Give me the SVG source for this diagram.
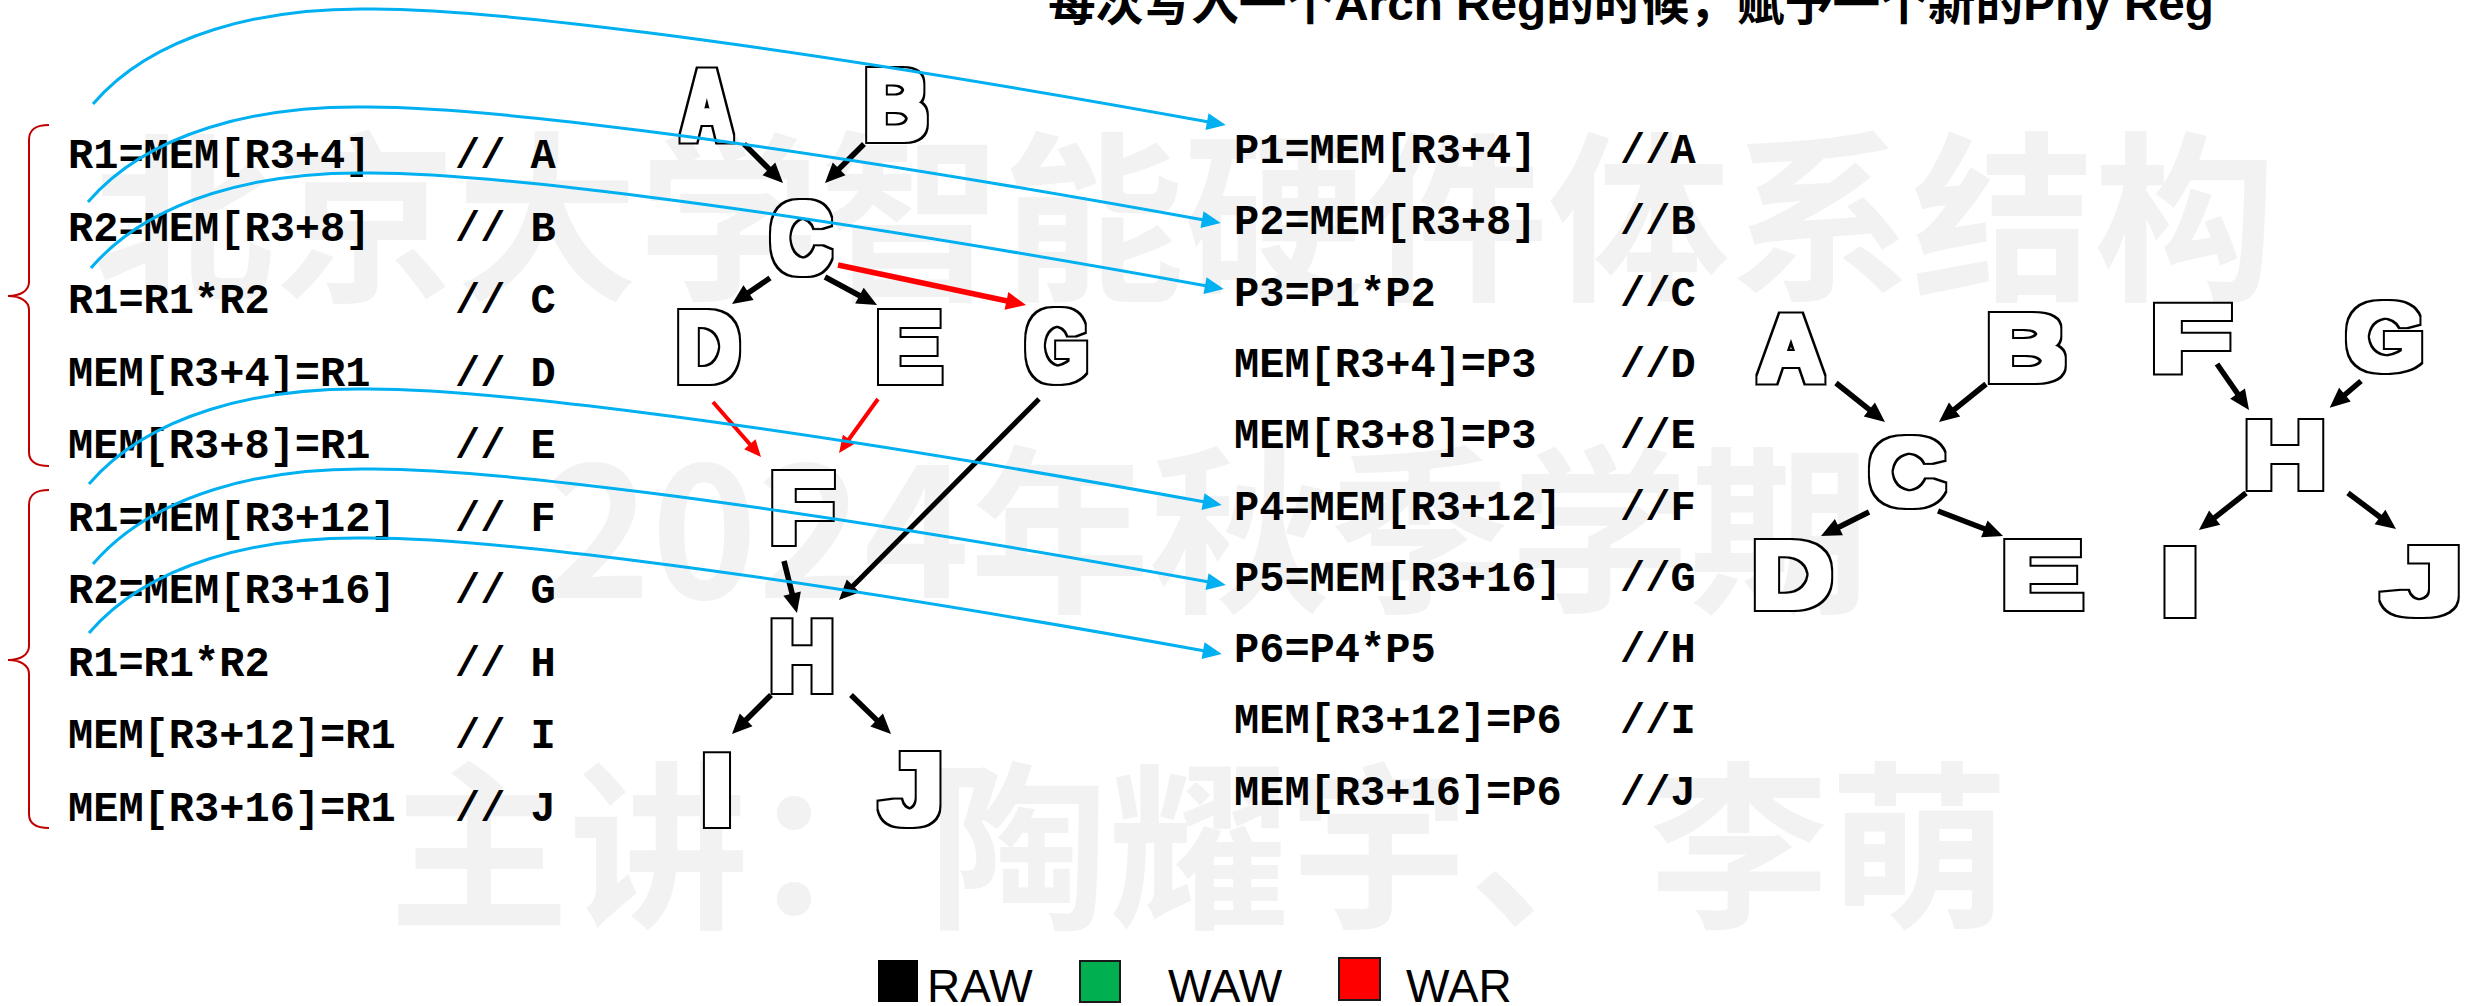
<svg xmlns="http://www.w3.org/2000/svg" width="2468" height="1006" viewBox="0 0 2468 1006">
  <defs>
    <style>
      .wm { fill: #f2f2f2; font-family: "Noto Sans CJK SC", sans-serif; font-weight: bold; font-size: 180px; }
      .title { fill: #000; font-family: "Liberation Sans", "Noto Sans CJK SC", sans-serif; font-weight: bold; font-size: 47px; }
      .code { fill: #000; font-family: "Liberation Mono", "Courier New", monospace; font-weight: bold; font-size: 42px; }
      .big { fill: #000; font-family: "Liberation Sans", Arial, sans-serif; font-weight: bold; text-anchor: middle; }
      .mid .big { font-size: 99px; }
      .right .big { font-size: 92px; }
      .legend { fill: #000; font-family: "Liberation Sans", Arial, sans-serif; font-size: 46px; }
      .brace { fill: none; stroke: #c00000; stroke-width: 2; }
      .raw { fill: none; stroke: #000; stroke-width: 5.5; marker-end: url(#headBlack); }
      .war { fill: none; stroke: #ff0000; stroke-width: 5.5; marker-end: url(#headRed); }
      .war-thin { fill: none; stroke: #ff0000; stroke-width: 4; marker-end: url(#headRedSmall); }
      .rename { fill: none; stroke: #00b0f0; stroke-width: 3; marker-end: url(#headBlue); }
    </style>
    <!-- heavy outlined letter: white dilated core with a thin black rim -->
    <filter id="heavy" x="-30%" y="-20%" width="160%" height="140%" color-interpolation-filters="sRGB">
      <feMorphology in="SourceAlpha" operator="dilate" radius="3" result="core"/>
      <feMorphology in="SourceAlpha" operator="dilate" radius="5" result="rim"/>
      <feFlood flood-color="#000000"/>
      <feComposite in2="rim" operator="in" result="rimBlack"/>
      <feFlood flood-color="#ffffff"/>
      <feComposite in2="core" operator="in" result="coreWhite"/>
      <feMerge>
        <feMergeNode in="rimBlack"/>
        <feMergeNode in="coreWhite"/>
      </feMerge>
    </filter>
    <marker id="headBlack" markerUnits="userSpaceOnUse" markerWidth="24" markerHeight="22" refX="2" refY="9" orient="auto" overflow="visible">
      <path d="M0,0 L20,9 L0,18 z" fill="#000"/>
    </marker>
    <marker id="headRed" markerUnits="userSpaceOnUse" markerWidth="24" markerHeight="22" refX="2" refY="9" orient="auto" overflow="visible">
      <path d="M0,0 L20,9 L0,18 z" fill="#ff0000"/>
    </marker>
    <marker id="headRedSmall" markerUnits="userSpaceOnUse" markerWidth="20" markerHeight="18" refX="1" refY="7.5" orient="auto" overflow="visible">
      <path d="M0,0 L17,7.5 L0,15 z" fill="#ff0000"/>
    </marker>
    <marker id="headBlue" markerUnits="userSpaceOnUse" markerWidth="22" markerHeight="20" refX="2" refY="8.5" orient="auto" overflow="visible">
      <path d="M0,0 L19,8.5 L0,17 z" fill="#00b0f0"/>
    </marker>
  </defs>

  <rect width="2468" height="1006" fill="#ffffff"/>

  <!-- background watermark -->
  <g id="watermark" class="wm">
    <text x="92" y="286" font-size="182">北京大学智能硬件体系结构</text>
    <text x="545" y="598">2024年秋季学期</text>
    <text x="389" y="914">主讲：陶耀宇、李萌</text>
  </g>

  <!-- heading -->
  <text id="title" class="title" x="1048" y="20" textLength="1166" lengthAdjust="spacingAndGlyphs">每次写入一个Arch Reg的时候，赋予一个新的Phy Reg</text>

  <!-- original code, architectural registers -->
  <g id="arch-code" class="code">
    <text y="168"><tspan x="68">R1=MEM[R3+4]</tspan><tspan x="455">// A</tspan></text>
    <text y="241"><tspan x="68">R2=MEM[R3+8]</tspan><tspan x="455">// B</tspan></text>
    <text y="313"><tspan x="68">R1=R1*R2</tspan><tspan x="455">// C</tspan></text>
    <text y="386"><tspan x="68">MEM[R3+4]=R1</tspan><tspan x="455">// D</tspan></text>
    <text y="458"><tspan x="68">MEM[R3+8]=R1</tspan><tspan x="455">// E</tspan></text>
    <text y="531"><tspan x="68">R1=MEM[R3+12]</tspan><tspan x="455">// F</tspan></text>
    <text y="603"><tspan x="68">R2=MEM[R3+16]</tspan><tspan x="455">// G</tspan></text>
    <text y="676"><tspan x="68">R1=R1*R2</tspan><tspan x="455">// H</tspan></text>
    <text y="748"><tspan x="68">MEM[R3+12]=R1</tspan><tspan x="455">// I</tspan></text>
    <text y="821"><tspan x="68">MEM[R3+16]=R1</tspan><tspan x="455">// J</tspan></text>
  </g>

  <!-- braces grouping the two iterations -->
  <g id="braces" class="brace">
    <path d="M49,125 C36,125 29,129 29,140 L29,282 C29,291 20,296 8,296 C20,296 29,301 29,310 L29,452 C29,462 36,466 49,466"/>
    <path d="M49,490 C36,490 29,494 29,505 L29,646 C29,655 20,660 8,660 C20,660 29,665 29,674 L29,814 C29,824 36,828 49,828"/>
  </g>

  <!-- renamed code, physical registers -->
  <g id="phys-code" class="code">
    <text y="163"><tspan x="1234">P1=MEM[R3+4]</tspan><tspan x="1620">//A</tspan></text>
    <text y="234"><tspan x="1234">P2=MEM[R3+8]</tspan><tspan x="1620">//B</tspan></text>
    <text y="306"><tspan x="1234">P3=P1*P2</tspan><tspan x="1620">//C</tspan></text>
    <text y="377"><tspan x="1234">MEM[R3+4]=P3</tspan><tspan x="1620">//D</tspan></text>
    <text y="448"><tspan x="1234">MEM[R3+8]=P3</tspan><tspan x="1620">//E</tspan></text>
    <text y="520"><tspan x="1234">P4=MEM[R3+12]</tspan><tspan x="1620">//F</tspan></text>
    <text y="591"><tspan x="1234">P5=MEM[R3+16]</tspan><tspan x="1620">//G</tspan></text>
    <text y="662"><tspan x="1234">P6=P4*P5</tspan><tspan x="1620">//H</tspan></text>
    <text y="733"><tspan x="1234">MEM[R3+12]=P6</tspan><tspan x="1620">//I</tspan></text>
    <text y="805"><tspan x="1234">MEM[R3+16]=P6</tspan><tspan x="1620">//J</tspan></text>
  </g>

  <!-- dependence graph before renaming -->
  <g id="graph-before" class="mid">
    <g id="b-A" filter="url(#heavy)"><text class="big" transform="translate(707,139) scale(0.71,1)">A</text></g>
    <g id="b-B" filter="url(#heavy)"><text class="big" transform="translate(896,139) scale(0.89,1)">B</text></g>
    <g id="b-C" filter="url(#heavy)"><text class="big" transform="translate(801,272) scale(0.85,1)">C</text></g>
    <g id="b-D" filter="url(#heavy)"><text class="big" transform="translate(708,381) scale(0.89,1)">D</text></g>
    <g id="b-E" filter="url(#heavy)"><text class="big" transform="translate(909,381) scale(1.02,1)">E</text></g>
    <g id="b-G" filter="url(#heavy)"><text class="big" transform="translate(1057,380) scale(0.81,1)">G</text></g>
    <g id="b-F" filter="url(#heavy)"><text class="big" transform="translate(802,542) scale(1.09,1)">F</text></g>
    <g id="b-H" filter="url(#heavy)"><text class="big" transform="translate(802,690) scale(0.91,1)">H</text></g>
    <g id="b-I" filter="url(#heavy)"><text class="big" transform="translate(717,824) scale(1.27,1)">I</text></g>
    <g id="b-J" filter="url(#heavy)"><text class="big" transform="translate(912,823) scale(1.18,1)">J</text></g>
  </g>

  <!-- dependence graph after renaming -->
  <g id="graph-after" class="right">
    <g id="a-A" filter="url(#heavy)"><text class="big" transform="translate(1791,380) scale(1.0,1)">A</text></g>
    <g id="a-B" filter="url(#heavy)"><text class="big" transform="translate(2026,380) scale(1.23,1)">B</text></g>
    <g id="a-C" filter="url(#heavy)"><text class="big" transform="translate(1907,504) scale(1.16,1)">C</text></g>
    <g id="a-D" filter="url(#heavy)"><text class="big" transform="translate(1792,607) scale(1.23,1)">D</text></g>
    <g id="a-E" filter="url(#heavy)"><text class="big" transform="translate(2042,607) scale(1.38,1)">E</text></g>
    <g id="a-F" filter="url(#heavy)"><text class="big" transform="translate(2191,370) scale(1.5,1)">F</text></g>
    <g id="a-G" filter="url(#heavy)"><text class="big" transform="translate(2385,369) scale(1.1,1)">G</text></g>
    <g id="a-H" filter="url(#heavy)"><text class="big" transform="translate(2285,487) scale(1.27,1)">H</text></g>
    <g id="a-I" filter="url(#heavy)"><text class="big" transform="translate(2180,614) scale(1.74,1)">I</text></g>
    <g id="a-J" filter="url(#heavy)"><text class="big" transform="translate(2423,613) scale(1.65,1)">J</text></g>
  </g>

  <!-- dependence edges -->
  <g id="edges">
    <path class="raw" d="M744,144 L770.3,170.3"/>
    <path class="raw" d="M864,144 L837.7,170.3"/>
    <path class="raw" d="M770,278 L746.9,293.8"/>
    <path class="raw" d="M825,277 L861.2,296.5"/>
    <path class="war" d="M838,265 L1008.4,301.3"/>
    <path class="war-thin" d="M713,402 L750.5,445"/>
    <path class="war-thin" d="M878,399 L848.4,440"/>
    <path class="raw" d="M1039,399 L851.7,587.2" style="stroke-width:5"/>
    <path class="raw" d="M784,561 L792.6,595.5"/>
    <path class="raw" d="M771,695 L744.7,721.3"/>
    <path class="raw" d="M851,695 L878.1,721.4"/>

    <path class="raw" d="M1836,383 L1870.9,410.8"/>
    <path class="raw" d="M1986,384 L1953,410.7"/>
    <path class="raw" d="M1869,512 L1837.1,528"/>
    <path class="raw" d="M1938,511 L1986.2,529.5"/>
    <path class="raw" d="M2217,364 L2238.7,395.2"/>
    <path class="raw" d="M2361,381 L2343.4,396"/>
    <path class="raw" d="M2246,493 L2213.1,518.9"/>
    <path class="raw" d="M2348,493 L2381.6,518.2"/>
  </g>

  <!-- renaming links from each load/compute to its new physical register -->
  <g id="rename-links">
    <path class="rename" d="M93,104 C153,34 263,7 373,9 C473,9 723,34 1209,122"/>
    <path class="rename" d="M88,202 C148,132 258,105 368,107 C468,107 718,132 1204,220"/>
    <path class="rename" d="M91,268 C151,198 261,171 371,173 C471,173 721,198 1207,286"/>
    <path class="rename" d="M89,484 C149,414 259,387 369,389 C469,389 719,414 1205,502"/>
    <path class="rename" d="M93,564 C153,494 263,467 373,469 C473,469 723,494 1209,582"/>
    <path class="rename" d="M89,633 C149,563 259,536 369,538 C469,538 719,563 1205,651"/>
  </g>

  <!-- legend -->
  <g id="legend">
    <rect x="878" y="960" width="40" height="42" fill="#000"/>
    <text class="legend" x="927" y="1002">RAW</text>
    <rect x="1080" y="961" width="40" height="41" fill="#00b050" stroke="#1a1a1a" stroke-width="2"/>
    <text class="legend" x="1168" y="1002">WAW</text>
    <rect x="1339" y="958" width="41" height="42" fill="#ff0000" stroke="#1a1a1a" stroke-width="2"/>
    <text class="legend" x="1406" y="1002">WAR</text>
  </g>
</svg>
